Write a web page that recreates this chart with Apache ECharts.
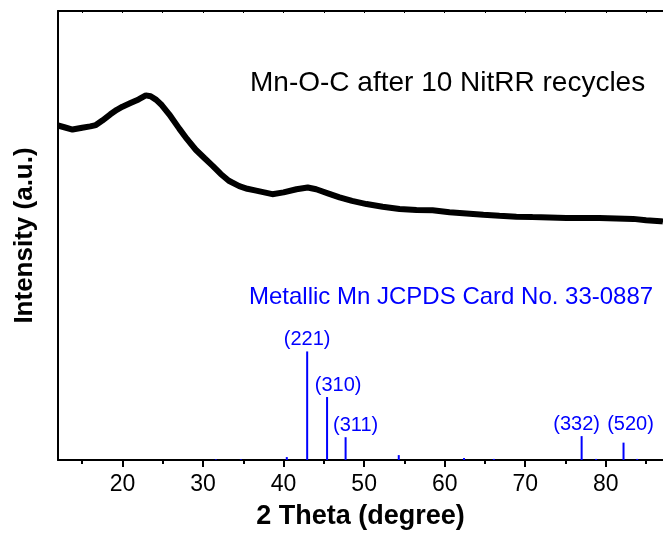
<!DOCTYPE html>
<html>
<head>
<meta charset="utf-8">
<script src="https://cdn.jsdelivr.net/npm/echarts@6/dist/echarts.min.js"></script>
<style>
  html, body { margin: 0; padding: 0; background: #fff; }
  #chart { width: 663px; height: 535px; }
</style>
</head>
<body>
<div id="chart"></div>
<script>
// Measured XRD pattern: 2θ (degree) and intensity (a.u.)
const twoTheta = [12.0, 13.0, 13.8, 15.0, 16.0, 16.7, 17.5, 18.5, 19.3, 20.0, 21.0, 22.0, 22.9, 23.5, 24.2, 24.9, 25.8, 27.05, 28.0, 29.1, 30.2, 31.2, 32.2, 33.2, 34.5, 35.5, 36.6, 38.6, 40.0, 41.6, 43.0, 44.05, 45.5, 46.95, 48.5, 50.3, 52.3, 54.4, 56.5, 58.5, 60.6, 62.7, 64.8, 66.8, 68.9, 70.9, 73.0, 75.1, 77.2, 79.2, 81.3, 83.4, 85.0, 86.8, 87.1];
const intensity = [74.5, 74.0, 73.6, 74.0, 74.3, 74.6, 75.6, 77.0, 78.0, 78.7, 79.5, 80.3, 81.2, 81.0, 80.2, 79.0, 77.0, 73.8, 71.5, 69.1, 67.2, 65.5, 63.7, 62.2, 61.0, 60.4, 60.0, 59.2, 59.6, 60.3, 60.7, 60.3, 59.4, 58.5, 57.7, 57.0, 56.4, 55.9, 55.7, 55.6, 55.2, 54.9, 54.6, 54.4, 54.2, 54.1, 54.0, 53.9, 53.9, 53.9, 53.8, 53.7, 53.4, 53.2, 53.1];

// Reference card (metallic Mn, JCPDS 33-0887): positions, relative intensities, indices
const refPos = [31.6, 34.7, 40.4, 42.93, 45.4, 47.7, 54.3, 62.4, 66.1, 77.0, 78.8, 82.2, 83.9];
const refInt = [0.6, 0.6, 2.7, 100, 58, 21, 4.5, 1.8, 1.0, 22, 1.0, 16, 1.0];
const refHkl = ['', '', '', '(221)', '(310)', '(311)', '', '', '', '(332)', '', '(520)', ''];

// Axis ticks
const xMajorTicks = [20, 30, 40, 50, 60, 70, 80];
const xMinorTicks = [15, 25, 35, 45, 55, 65, 75, 85];

// Texts
const sampleLabel = 'Mn-O-C after 10 NitRR recycles';
const cardLabel = 'Metallic Mn JCPDS Card No. 33-0887';
const xTitle = '2 Theta (degree)';
const yTitle = 'Intensity (a.u.)';

const FONT = '"Liberation Sans", Arial, sans-serif';
const X_MIN = 12, X_MAX = 87.1;

const labelOffsets = { '(221)': [0, 0], '(310)': [11, 0], '(311)': [10, 0], '(332)': [-5, 0], '(520)': [7, -6] };

const stickData = refPos.map((x, i) => {
  const item = { value: [x, refInt[i]] };
  if (refHkl[i]) {
    item.label = {
      show: true,
      position: 'top',
      distance: 2,
      offset: labelOffsets[refHkl[i]],
      formatter: refHkl[i],
      color: '#0000ff',
      fontFamily: FONT,
      fontSize: 20
    };
  }
  return item;
});

const chart = echarts.init(document.getElementById('chart'), null, { renderer: 'canvas' });

const baseX = {
  type: 'value', min: X_MIN, max: X_MAX,
  splitLine: { show: false }
};

chart.setOption({
  animation: false,
  backgroundColor: '#fff',
  grid: { left: 58, right: 0, top: 11, bottom: 69, containLabel: false },
  xAxis: [
    Object.assign({}, baseX, {
      position: 'bottom',
      axisLine: { show: true, onZero: false, lineStyle: { color: '#000', width: 2 } },
      axisTick: { show: true, inside: false, length: 7, lineStyle: { color: '#000', width: 2 }, customValues: xMajorTicks },
      axisLabel: { show: true, customValues: xMajorTicks, color: '#000', fontFamily: FONT, fontSize: 23, margin: 13 },
      name: xTitle, nameLocation: 'middle', nameGap: 43,
      nameTextStyle: { color: '#000', fontFamily: FONT, fontSize: 27, fontWeight: 'bold' }
    }),
    Object.assign({}, baseX, {
      position: 'bottom',
      axisLine: { show: false },
      axisTick: { show: true, inside: false, length: 4, lineStyle: { color: '#000', width: 2 }, customValues: xMinorTicks },
      axisLabel: { show: false }
    }),
    Object.assign({}, baseX, {
      position: 'top',
      axisLine: { show: true, onZero: false, lineStyle: { color: '#000', width: 2 } },
      axisTick: { show: true, inside: true, length: 2, lineStyle: { color: '#000', width: 1 }, customValues: xMajorTicks.concat(xMinorTicks) },
      axisLabel: { show: false }
    })
  ],
  yAxis: [
    {
      type: 'value', min: 0, max: 100, position: 'left',
      axisLine: { show: true, onZero: false, lineStyle: { color: '#000', width: 2 } },
      axisTick: { show: false },
      axisLabel: { show: false },
      splitLine: { show: false },
      name: yTitle, nameLocation: 'middle', nameGap: 20,
      nameTextStyle: { color: '#000', fontFamily: FONT, fontSize: 26, fontWeight: 'bold' }
    },
    {
      type: 'value', min: 0, max: 413.6, show: false,
      splitLine: { show: false }
    }
  ],
  series: [
    {
      type: 'line',
      xAxisIndex: 0, yAxisIndex: 0,
      data: twoTheta.map((x, i) => [x, intensity[i]]),
      showSymbol: false,
      lineStyle: { color: '#000', width: 6 },
      clip: true
    },
    {
      type: 'bar',
      xAxisIndex: 0, yAxisIndex: 1,
      data: stickData,
      barWidth: 2,
      itemStyle: { color: '#0000ff' },
      label: { show: false }
    }
  ],
  graphic: [
    {
      type: 'text', left: 250, top: 69,
      style: { text: sampleLabel, fill: '#000', font: '28px ' + FONT }
    },
    {
      type: 'text', left: 249, top: 285,
      style: { text: cardLabel, fill: '#0000ff', font: '24px ' + FONT }
    }
  ]
});
</script>
</body>
</html>
